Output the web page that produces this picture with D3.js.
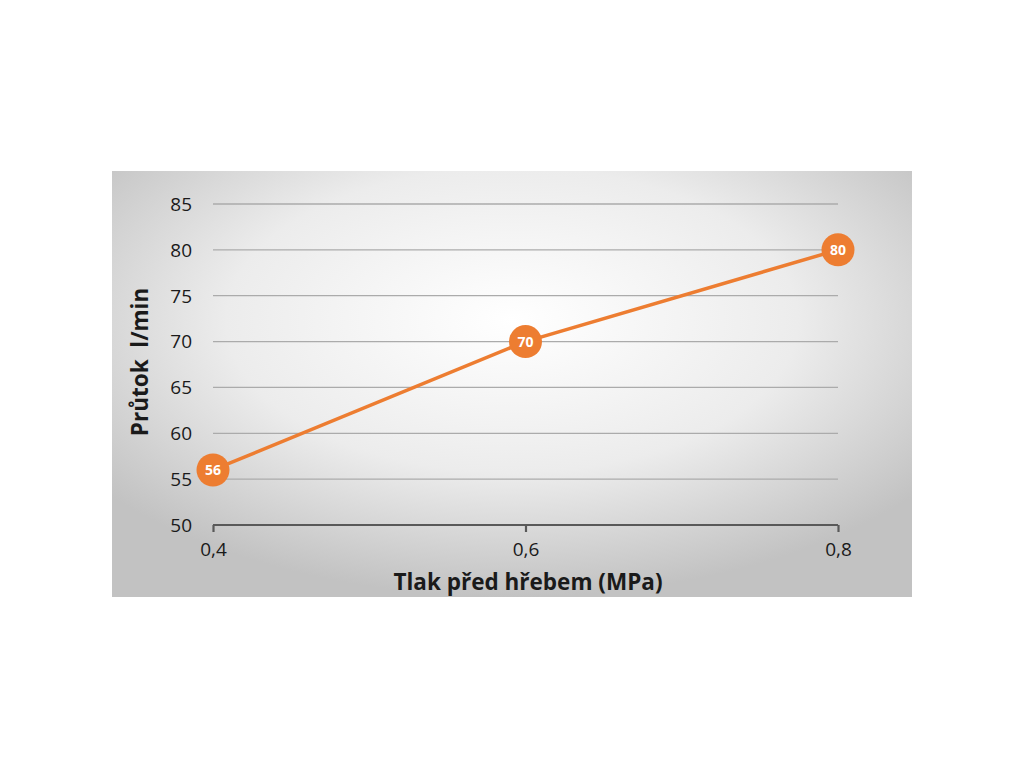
<!DOCTYPE html>
<html><head><meta charset="utf-8">
<script src="https://cdn.jsdelivr.net/npm/d3@7"></script>
<style>body{margin:0;background:#fff;}svg{display:block;}</style>
</head><body>
<script>
const xValues = [0.4, 0.6, 0.8];
const yValues = [56, 70, 80];
const xTicks = [0.4, 0.6, 0.8];
const yTicks = [50, 55, 60, 65, 70, 75, 80, 85];
const xTitle = "Tlak před hřebem (MPa)";
const yTitle = "Průtok  l/min";

const W = 1024, H = 768;
const svg = d3.select("body").append("svg").attr("width", W).attr("height", H);
const defs = svg.append("defs");
const grad = defs.append("radialGradient").attr("id","bg")
  .attr("cx","50%").attr("cy","35%").attr("r","65%");
grad.append("stop").attr("offset","0%").attr("stop-color","#ffffff");
grad.append("stop").attr("offset","55%").attr("stop-color","#ececec");
grad.append("stop").attr("offset","100%").attr("stop-color","#c2c2c2");

const panel = {x:112, y:171, w:800, h:426};
svg.append("rect").attr("x",panel.x).attr("y",panel.y).attr("width",panel.w).attr("height",panel.h).attr("fill","url(#bg)");

const font = "'Open Sans', sans-serif";
const x = d3.scaleLinear().domain([0.4,0.8]).range([213,838]);
const y = d3.scaleLinear().domain([50,85]).range([525,204]);

// gridlines
svg.append("g").selectAll("line").data(yTicks.filter(d=>d>50)).join("line")
  .attr("x1",x(0.4)).attr("x2",x(0.8)).attr("y1",d=>y(d)).attr("y2",d=>y(d))
  .attr("stroke","#ababab").attr("stroke-width",1.3);

// y labels
svg.append("g").selectAll("text").data(yTicks).join("text")
  .attr("x",192).attr("y",d=>y(d)).attr("dy","0.36em").attr("text-anchor","end")
  .attr("font-family",font).attr("font-size",19).attr("fill","#1a1a1a").text(d=>d);

// x axis
const xAxis = d3.axisBottom(x).tickValues(xTicks).tickSize(7).tickPadding(11)
  .tickFormat(d=>d3.format(".1f")(d).replace(".",","));
const gx = svg.append("g").attr("transform",`translate(0,${y(50)})`).call(xAxis);
gx.select(".domain").attr("stroke","#595959").attr("stroke-width",2.2).attr("d",`M${x(0.4)},0H${x(0.8)}`);
gx.selectAll(".tick line").attr("stroke","#595959").attr("stroke-width",2.2);
gx.selectAll(".tick text").attr("font-family",font).attr("font-size",19).attr("fill","#1a1a1a");

// titles
svg.append("text").attr("x",528).attr("y",590).attr("text-anchor","middle")
  .attr("font-family",font).attr("font-weight","bold").attr("font-size",22.5).attr("fill","#1a1a1a").text(xTitle);
svg.append("text").attr("transform","translate(148,362) rotate(-90)").attr("text-anchor","middle")
  .attr("font-family",font).attr("font-weight","bold").attr("font-size",22.5).attr("fill","#1a1a1a")
  .attr("xml:space","preserve").style("white-space","pre").text(yTitle);

const pts = xValues.map((v,i)=>[v,yValues[i]]);
svg.append("path").datum(pts)
  .attr("d",d3.line().x(d=>x(d[0])).y(d=>y(d[1])))
  .attr("fill","none").attr("stroke","#ED7D31").attr("stroke-width",3.5);

const g = svg.append("g").selectAll("g").data(pts).join("g")
  .attr("transform",d=>`translate(${x(d[0])},${y(d[1])})`);
g.append("circle").attr("r",16.5).attr("fill","#ED7D31");
g.append("text").attr("text-anchor","middle").attr("dy","0.36em")
  .attr("font-family",font).attr("font-weight","bold").attr("font-size",14).attr("fill","#fff").text(d=>d[1]);
</script>
</body></html>
